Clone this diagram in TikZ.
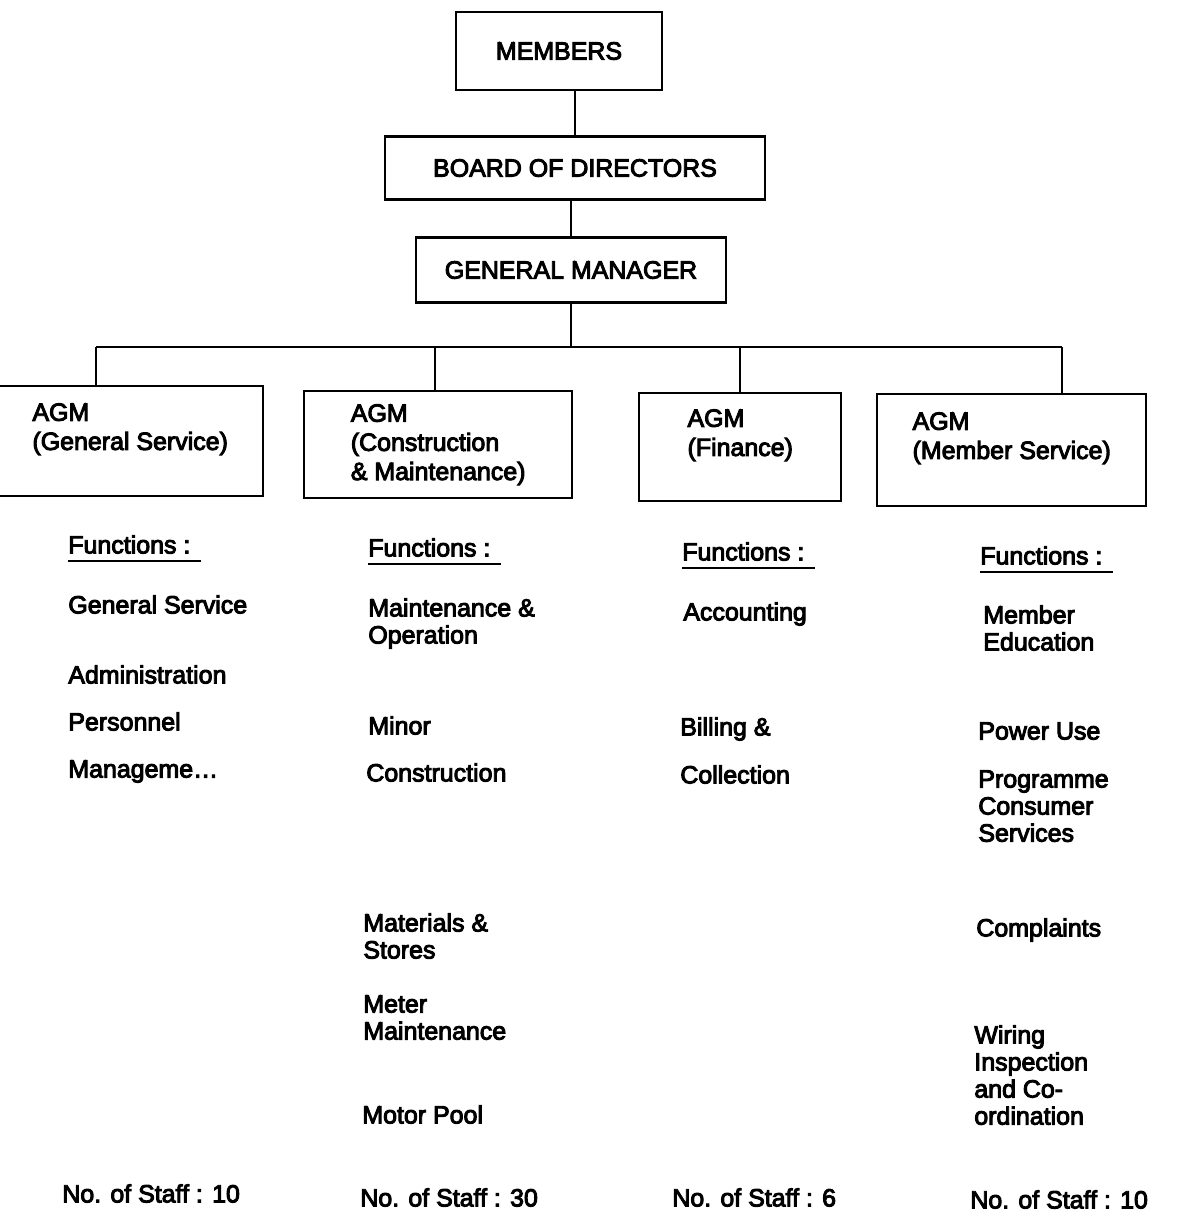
\documentclass[tikz,border=0pt]{standalone}
\usepackage{fontspec}
\setmainfont{Liberation Sans}
\usepackage{tikz}
\usetikzlibrary{positioning, calc}

% heavier print, like the scanned type
\newcommand{\inkon}{\special{pdf:code 2 Tr 0.55 w}}
\newcommand{\inkoff}{\special{pdf:code 0 Tr}}

\begin{document}
\begin{tikzpicture}[
    x=0.02cm, y=-0.02cm,
    font=\fontsize{14.2}{15.4}\selectfont,
    every node/.style={execute at begin node=\inkon, execute at end node=\inkoff},
    box/.style={draw, line width=1.4pt, inner sep=2pt, align=center},
    agm/.style={box, align=left, anchor=north west, font=\fontsize{14.2}{16.6}\selectfont},
    fn/.style={anchor=north west, inner sep=0pt, align=left},
    uline/.style={line width=1.5pt},
    link/.style={line width=1.4pt},
]
\useasboundingbox (0,0) rectangle (1182,1220);

% top of the chart
\node[box, minimum width=4.12cm, minimum height=1.56cm] (members) at (559,51) {MEMBERS};
\node[box, minimum width=7.6cm, minimum height=1.26cm] (board) at (575,168) {BOARD OF DIRECTORS};
\node[box, minimum width=6.2cm, minimum height=1.3cm] (gm) at (571,270) {GENERAL MANAGER};

% assistant general managers
\node[agm, minimum width=5.32cm, minimum height=2.2cm] (agm1) at (-4,385) {AGM\\(General Service)\\\mbox{}};
\node[agm, minimum width=5.36cm, minimum height=2.14cm] (agm2) at (303,390) {AGM\\(Construction\\\& Maintenance)};
\node[agm, minimum width=4.04cm, minimum height=2.16cm] (agm3) at (638,392) {AGM\\(Finance)\\\mbox{}};
\node[agm, minimum width=5.38cm, minimum height=2.24cm] (agm4) at (876,393) {AGM\\(Member Service)\\\mbox{}};

% connectors
\draw[link] (board.north) -- (board.north |- members.south);
\draw[link] (gm.north) -- (gm.north |- board.south);
\coordinate (bus) at (571,347);
\coordinate (d1) at (96,347);
\coordinate (d2) at (435,347);
\coordinate (d3) at (740,347);
\coordinate (d4) at (1062,347);
\draw[link] (gm.south) -- (bus);
\draw[link] (d1) -- (d4);
\foreach \i in {1,...,4}
    \draw[link] (d\i) -- (d\i |- agm\i.north);

% functions: general service
\node[fn] (fh1) at (68,535) {Functions :};
\node[fn] (f1a) at (68,595) {General Service};
\node[fn] (f1b) at (68,665) {Administration};
\node[fn] (f1c) at (68,712) {Personnel};
\node[fn] (f1d) at (68,760) {Manageme\ldots};
\node[fn] (staff1) at (62,1184) {No. of Staff : 10};

% functions: construction & maintenance
\node[fn] (fh2) at (368,538) {Functions :};
\node[fn] (f2a) at (368,598) {Maintenance \&\\Operation};
\node[fn] (f2b) at (368,716) {Minor};
\node[fn] (f2c) at (366,763) {Construction};
\node[fn] (f2d) at (363,913) {Materials \&\\Stores};
\node[fn] (f2e) at (363,995) {Meter\\Maintenance};
\node[fn] (f2f) at (362,1105) {Motor Pool};
\node[fn] (staff2) at (360,1188) {No. of Staff : 30};

% functions: finance
\node[fn] (fh3) at (682,542) {Functions :};
\node[fn] (f3a) at (683,602) {Accounting};
\node[fn] (f3b) at (680,717) {Billing \&};
\node[fn] (f3c) at (680,765) {Collection};
\node[fn] (staff3) at (672,1188) {No. of Staff : 6};

% functions: member service
\node[fn] (fh4) at (980,546) {Functions :};
\node[fn] (f4a) at (983,605) {Member\\Education};
\node[fn] (f4b) at (978,722) {Power Use};
\node[fn] (f4c) at (978,770) {Programme\\Consumer\\Services};
\node[fn] (f4d) at (976,918) {Complaints};
\node[fn] (f4e) at (974,1025) {Wiring\\Inspection\\and Co-\\ordination};
\node[fn] (staff4) at (970,1190) {No. of Staff : 10};

% underlines
\foreach \i in {1,...,4}
    \draw[uline] ([yshift=-0.15cm]fh\i.base west) -- ([xshift=0.2cm,yshift=-0.15cm]fh\i.base east);
\end{tikzpicture}
\end{document}
